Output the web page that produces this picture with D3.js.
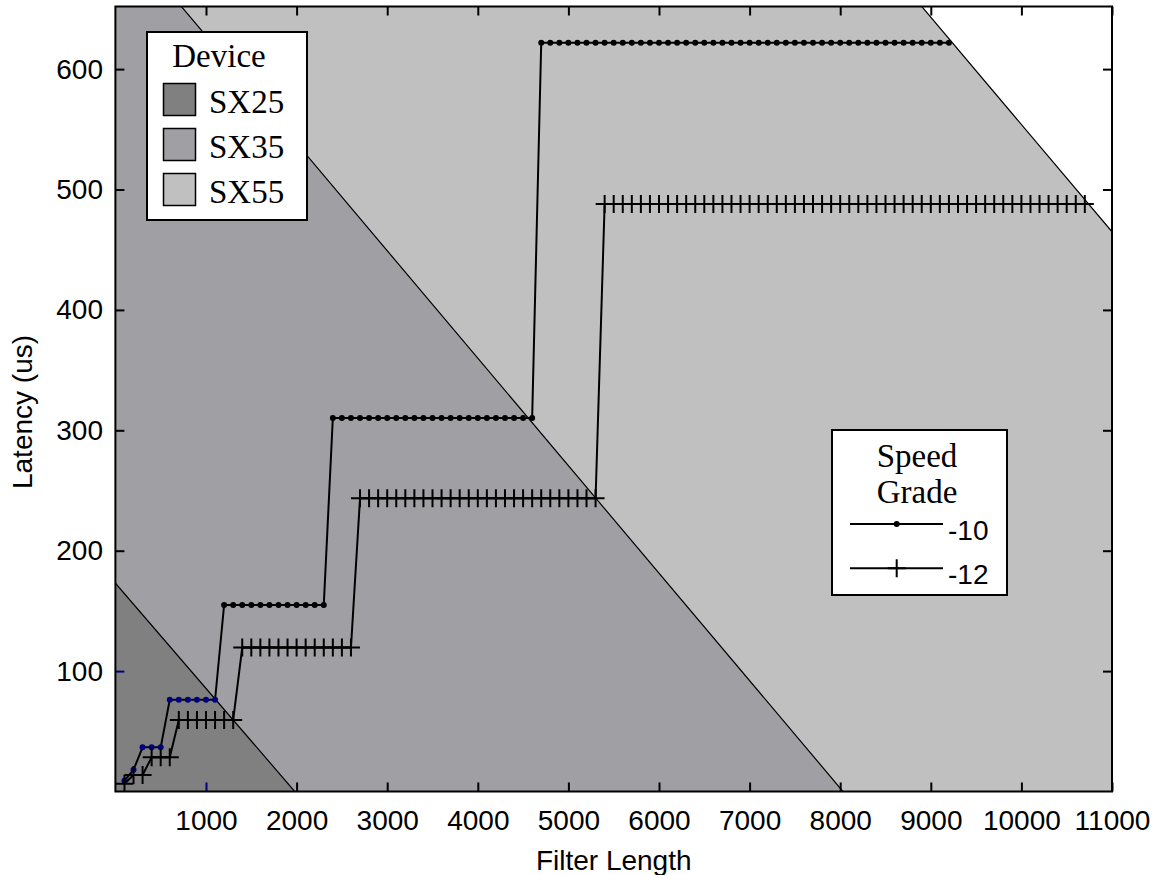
<!DOCTYPE html>
<html>
<head>
<meta charset="utf-8">
<script src="https://cdn.jsdelivr.net/npm/d3@7"></script>
<style>
  html, body { margin: 0; padding: 0; background: #ffffff; }
  svg { display: block; }
</style>
</head>
<body>
<svg id="chart" width="1158" height="875"></svg>
<script>
// ---- Device capacity regions: each bounded by a straight line from
// (0, latency at zero length) to (length at zero latency, 0)
const deviceNames = ["SX25", "SX35", "SX55"];
const deviceColors = ["#808080", "#a0a0a4", "#c0c0c0"];
const deviceLatencyAtZero = [173, 717, 1445];
const deviceLengthAtZero = [1980, 8031, 16218];

// ---- Speed grade series
const speedGrades = ["-10", "-12"];

const lengths10 = [
  100, 200, 300, 400, 500, 600, 700, 800, 900, 1000,
  1100, 1200, 1300, 1400, 1500, 1600, 1700, 1800, 1900, 2000,
  2100, 2200, 2300, 2400, 2500, 2600, 2700, 2800, 2900, 3000,
  3100, 3200, 3300, 3400, 3500, 3600, 3700, 3800, 3900, 4000,
  4100, 4200, 4300, 4400, 4500, 4600, 4700, 4800, 4900, 5000,
  5100, 5200, 5300, 5400, 5500, 5600, 5700, 5800, 5900, 6000,
  6100, 6200, 6300, 6400, 6500, 6600, 6700, 6800, 6900, 7000,
  7100, 7200, 7300, 7400, 7500, 7600, 7700, 7800, 7900, 8000,
  8100, 8200, 8300, 8400, 8500, 8600, 8700, 8800, 8900, 9000,
  9100, 9200
];
const latency10 = [
  9, 18, 36.7, 36.7, 36.7, 76.2, 76.2, 76.2, 76.2, 76.2,
  76.2, 155, 155, 155, 155, 155, 155, 155, 155, 155,
  155, 155, 155, 310.2, 310.2, 310.2, 310.2, 310.2, 310.2, 310.2,
  310.2, 310.2, 310.2, 310.2, 310.2, 310.2, 310.2, 310.2, 310.2, 310.2,
  310.2, 310.2, 310.2, 310.2, 310.2, 310.2, 621.8, 621.8, 621.8, 621.8,
  621.8, 621.8, 621.8, 621.8, 621.8, 621.8, 621.8, 621.8, 621.8, 621.8,
  621.8, 621.8, 621.8, 621.8, 621.8, 621.8, 621.8, 621.8, 621.8, 621.8,
  621.8, 621.8, 621.8, 621.8, 621.8, 621.8, 621.8, 621.8, 621.8, 621.8,
  621.8, 621.8, 621.8, 621.8, 621.8, 621.8, 621.8, 621.8, 621.8, 621.8,
  621.8, 621.8
];

const lengths12 = [
  100, 200, 300, 400, 500, 600, 700, 800, 900, 1000,
  1100, 1200, 1300, 1400, 1500, 1600, 1700, 1800, 1900, 2000,
  2100, 2200, 2300, 2400, 2500, 2600, 2700, 2800, 2900, 3000,
  3100, 3200, 3300, 3400, 3500, 3600, 3700, 3800, 3900, 4000,
  4100, 4200, 4300, 4400, 4500, 4600, 4700, 4800, 4900, 5000,
  5100, 5200, 5300, 5400, 5500, 5600, 5700, 5800, 5900, 6000,
  6100, 6200, 6300, 6400, 6500, 6600, 6700, 6800, 6900, 7000,
  7100, 7200, 7300, 7400, 7500, 7600, 7700, 7800, 7900, 8000,
  8100, 8200, 8300, 8400, 8500, 8600, 8700, 8800, 8900, 9000,
  9100, 9200, 9300, 9400, 9500, 9600, 9700, 9800, 9900, 10000,
  10100, 10200, 10300, 10400, 10500, 10600, 10700
];
const latency12 = [
  6.5, 13.7, 13.7, 28.4, 28.4, 28.4, 59.4, 59.4, 59.4, 59.4,
  59.4, 59.4, 59.4, 119.6, 119.6, 119.6, 119.6, 119.6, 119.6, 119.6,
  119.6, 119.6, 119.6, 119.6, 119.6, 119.6, 243.5, 243.5, 243.5, 243.5,
  243.5, 243.5, 243.5, 243.5, 243.5, 243.5, 243.5, 243.5, 243.5, 243.5,
  243.5, 243.5, 243.5, 243.5, 243.5, 243.5, 243.5, 243.5, 243.5, 243.5,
  243.5, 243.5, 243.5, 487.9, 487.9, 487.9, 487.9, 487.9, 487.9, 487.9,
  487.9, 487.9, 487.9, 487.9, 487.9, 487.9, 487.9, 487.9, 487.9, 487.9,
  487.9, 487.9, 487.9, 487.9, 487.9, 487.9, 487.9, 487.9, 487.9, 487.9,
  487.9, 487.9, 487.9, 487.9, 487.9, 487.9, 487.9, 487.9, 487.9, 487.9,
  487.9, 487.9, 487.9, 487.9, 487.9, 487.9, 487.9, 487.9, 487.9, 487.9,
  487.9, 487.9, 487.9, 487.9, 487.9, 487.9, 487.9
];

// ---- Axis ticks and titles
const xTicks = [1000, 2000, 3000, 4000, 5000, 6000, 7000, 8000, 9000, 10000, 11000];
const yTicks = [100, 200, 300, 400, 500, 600];
const xTitle = "Filter Length";
const yTitle = "Latency (us)";
const deviceLegendTitle = "Device";
const speedLegendTitle = ["Speed", "Grade"];

// ---- Layout
const frame = { left: 115.4, right: 1112, top: 6.5, bottom: 791.5 };
const SANS = "'Liberation Sans', Arial, sans-serif";
const SERIF = "'Liberation Serif', 'Times New Roman', serif";
const NAVY = "#000080";
const DOT_R = 3;

const x = d3.scaleLinear().domain([0, 11000]).range([frame.left, frame.right]);
const y = d3.scaleLinear().domain([0, 652]).range([frame.bottom, frame.top]);

const svg = d3.select("#chart");

svg.append("defs").append("clipPath").attr("id", "plot-clip")
  .append("rect")
  .attr("x", frame.left).attr("y", frame.top)
  .attr("width", frame.right - frame.left)
  .attr("height", frame.bottom - frame.top);

// plot background
svg.append("rect")
  .attr("x", frame.left).attr("y", frame.top)
  .attr("width", frame.right - frame.left)
  .attr("height", frame.bottom - frame.top)
  .attr("fill", "#ffffff");

const devices = deviceNames.map((name, i) => ({
  name, color: deviceColors[i],
  l0: deviceLatencyAtZero[i], f0: deviceLengthAtZero[i]
}));

// points under the smallest device's line get the palette's navy colour
const inSmallest = (f, l) => l / devices[0].l0 + f / devices[0].f0 < 1;

// ---- Device regions (largest first, smaller ones painted over it)
const regionLayer = svg.append("g").attr("clip-path", "url(#plot-clip)");
devices.slice().reverse().forEach(d => {
  const pts = [[0, 0], [0, d.l0], [d.f0, 0]].map(p => [x(p[0]), y(p[1])]);
  regionLayer.append("path")
    .attr("d", d3.line()(pts) + "Z")
    .attr("fill", d.color)
    .attr("stroke", "#000")
    .attr("stroke-width", 1.2);
});

// ---- Series
const series = [
  { name: speedGrades[0], lengths: lengths10, latency: latency10, marker: "dot" },
  { name: speedGrades[1], lengths: lengths12, latency: latency12, marker: "plus" }
];

const plusPath = (cx, cy, r) => `M${cx - r},${cy}H${cx + r}M${cx},${cy - r}V${cy + r}`;
const PLUS_R = 9;

const seriesLayer = svg.append("g").attr("clip-path", "url(#plot-clip)");
series.forEach(s => {
  const pts = s.lengths.map((f, i) => [f, s.latency[i]]);
  seriesLayer.append("path")
    .attr("d", d3.line().x(p => x(p[0])).y(p => y(p[1]))(pts))
    .attr("fill", "none")
    .attr("stroke", "#000")
    .attr("stroke-width", 2)
    .attr("stroke-linejoin", "miter");
  if (s.marker === "dot") {
    seriesLayer.append("g").selectAll("circle").data(pts).join("circle")
      .attr("cx", p => x(p[0])).attr("cy", p => y(p[1]))
      .attr("r", DOT_R)
      .attr("fill", p => inSmallest(p[0], p[1]) ? NAVY : "#000");
  } else {
    seriesLayer.append("g").selectAll("path").data(pts).join("path")
      .attr("d", p => plusPath(x(p[0]), y(p[1]), PLUS_R))
      .attr("fill", "none")
      .attr("stroke", "#000")
      .attr("stroke-width", 2);
  }
});

// ---- Axes (ticks inward on all four sides)
const TICK = 9;
function styleAxis(g, colorFn) {
  g.select(".domain").remove();
  g.attr("font-family", SANS).attr("font-size", 28);
  g.selectAll(".tick text").attr("fill", "#000");
  g.selectAll(".tick line")
    .attr("stroke", d => colorFn(d))
    .attr("stroke-width", 2);
}

const gx = svg.append("g")
  .attr("transform", `translate(0,${frame.bottom})`)
  .call(d3.axisBottom(x).tickValues(xTicks).tickSizeInner(-TICK).tickSizeOuter(0)
    .tickPadding(18.6).tickFormat(d3.format("d")));
styleAxis(gx, d => inSmallest(d, 1) ? NAVY : "#000");

const gxTop = svg.append("g")
  .attr("transform", `translate(0,${frame.top})`)
  .call(d3.axisTop(x).tickValues(xTicks).tickSizeInner(-TICK).tickSizeOuter(0).tickFormat(""));
styleAxis(gxTop, () => "#000");

const gy = svg.append("g")
  .attr("transform", `translate(${frame.left},0)`)
  .call(d3.axisLeft(y).tickValues(yTicks).tickSizeInner(-TICK).tickSizeOuter(0)
    .tickPadding(12.4).tickFormat(d3.format("d")));
styleAxis(gy, d => inSmallest(50, d) ? NAVY : "#000");

const gyRight = svg.append("g")
  .attr("transform", `translate(${frame.right},0)`)
  .call(d3.axisRight(y).tickValues(yTicks).tickSizeInner(-TICK).tickSizeOuter(0).tickFormat(""));
styleAxis(gyRight, () => "#000");

// frame
svg.append("rect")
  .attr("x", frame.left).attr("y", frame.top)
  .attr("width", frame.right - frame.left)
  .attr("height", frame.bottom - frame.top)
  .attr("fill", "none")
  .attr("stroke", "#000")
  .attr("stroke-width", 2);

// axis titles
svg.append("text")
  .attr("x", (frame.left + frame.right) / 2)
  .attr("y", 870)
  .attr("text-anchor", "middle")
  .attr("font-family", SANS).attr("font-size", 28)
  .text(xTitle);

svg.append("text")
  .attr("transform", `translate(32,${412}) rotate(-90)`)
  .attr("text-anchor", "middle")
  .attr("font-family", SANS).attr("font-size", 28)
  .text(yTitle);

// ---- Device legend
const dLeg = svg.append("g");
dLeg.append("rect")
  .attr("x", 147).attr("y", 32).attr("width", 160).attr("height", 188)
  .attr("fill", "#ffffff").attr("stroke", "#000").attr("stroke-width", 2);
dLeg.append("text")
  .attr("x", 219).attr("y", 66.5)
  .attr("text-anchor", "middle")
  .attr("font-family", SERIF).attr("font-size", 33)
  .text(deviceLegendTitle);
devices.forEach((d, i) => {
  dLeg.append("rect")
    .attr("x", 163.5).attr("y", 83.5 + i * 45)
    .attr("width", 32).attr("height", 32)
    .attr("fill", d.color).attr("stroke", "#000").attr("stroke-width", 1.5);
  dLeg.append("text")
    .attr("x", 209).attr("y", 113 + i * 45)
    .attr("font-family", SERIF).attr("font-size", 33)
    .text(d.name);
});

// ---- Speed grade legend
const sLeg = svg.append("g");
sLeg.append("rect")
  .attr("x", 832).attr("y", 430).attr("width", 175).attr("height", 165)
  .attr("fill", "#ffffff").attr("stroke", "#000").attr("stroke-width", 2);
speedLegendTitle.forEach((t, i) => {
  sLeg.append("text")
    .attr("x", 917).attr("y", 467 + i * 36)
    .attr("text-anchor", "middle")
    .attr("font-family", SERIF).attr("font-size", 33)
    .text(t);
});
series.forEach((s, i) => {
  const ly = 524 + i * 44.3;
  sLeg.append("line")
    .attr("x1", 850).attr("x2", 943).attr("y1", ly).attr("y2", ly)
    .attr("stroke", "#000").attr("stroke-width", 2);
  if (s.marker === "dot") {
    sLeg.append("circle").attr("cx", 896.7).attr("cy", ly).attr("r", DOT_R).attr("fill", "#000");
  } else {
    sLeg.append("path").attr("d", plusPath(896.7, ly, PLUS_R))
      .attr("stroke", "#000").attr("stroke-width", 2).attr("fill", "none");
  }
  sLeg.append("text")
    .attr("x", 948).attr("y", ly + 16)
    .attr("font-family", SANS).attr("font-size", 28)
    .text(s.name);
});
</script>
</body>
</html>
